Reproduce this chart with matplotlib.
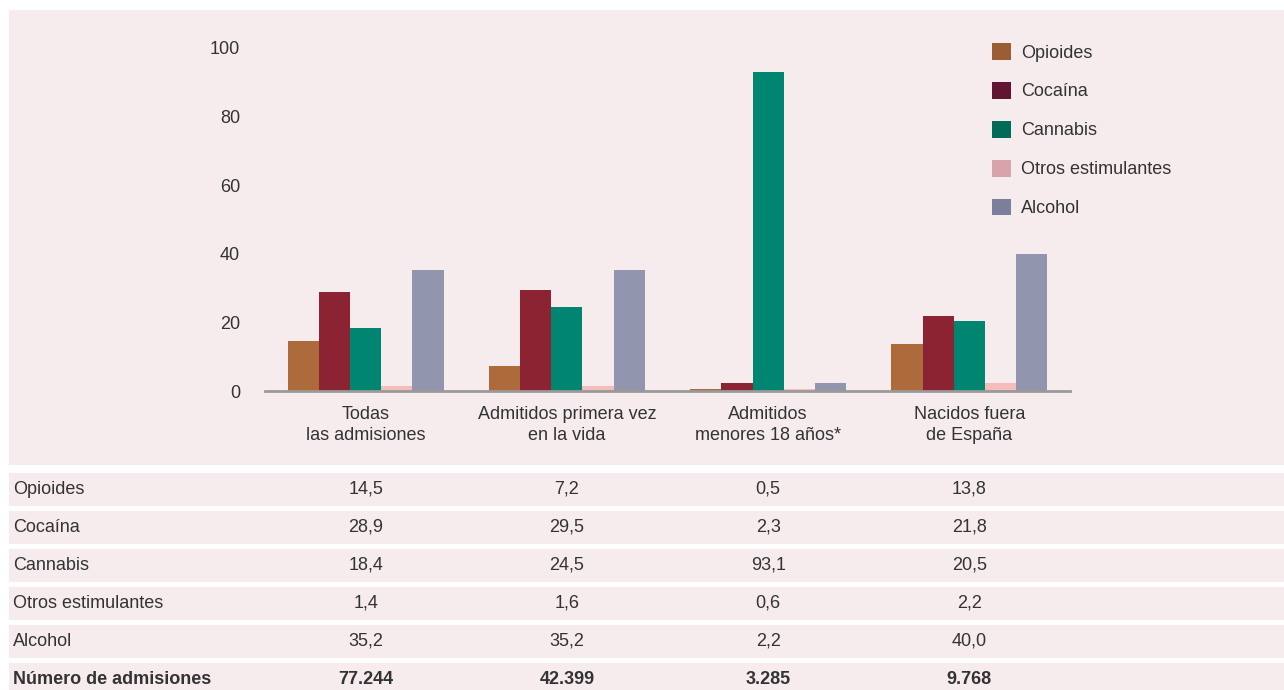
import matplotlib.pyplot as plt
import matplotlib.transforms as mtransforms
from matplotlib.patches import Rectangle, Patch
import numpy as np

plt.rcParams['font.family'] = ['Liberation Sans', 'DejaVu Sans']

# data
grupos = ['Todas\nlas admisiones', 'Admitidos primera vez\nen la vida',
          'Admitidos\nmenores 18 años*', 'Nacidos fuera\nde España']
sustancias = ['Opioides', 'Cocaína', 'Cannabis', 'Otros estimulantes', 'Alcohol']
opioides = [14.5, 7.2, 0.5, 13.8]
cocaina = [28.9, 29.5, 2.3, 21.8]
cannabis = [18.4, 24.5, 93.1, 20.5]
otros = [1.4, 1.6, 0.6, 2.2]
alcohol = [35.2, 35.2, 2.2, 40.0]
n_admisiones = ['77.244', '42.399', '3.285', '9.768']

valores = [opioides, cocaina, cannabis, otros, alcohol]
bar_colors = ['#ad6b3b', '#8b2332', '#008571', '#f5bcbc', '#9195ae']
leg_colors = ['#9a5e34', '#621530', '#036a58', '#d8a4ab', '#7b7f9b']

W, H = 1284, 690
bg = '#f6ecee'
txt = '#333333'
fs = 13

fig = plt.figure(figsize=(W / 100, H / 100), dpi=100)
fig.patch.set_facecolor('white')

def px(x0, y0, w, h):
    # pixel box (top-left origin) to figure coords
    return (x0 / W, 1 - (y0 + h) / H, w / W, h / H)

# chart panel background
x, y, w, h = px(9, 10, W - 9, 455)
fig.add_artist(Rectangle((x, y), w, h, transform=fig.transFigure,
                         facecolor=bg, edgecolor='none', zorder=0))

ax = fig.add_axes([265 / W, 1 - 391 / H, 805 / W, 343 / H])
ax.set_facecolor('none')

xpos = np.arange(len(grupos))
bw = 0.155
for i, (vals, c) in enumerate(zip(valores, bar_colors)):
    ax.bar(xpos + (i - 2) * bw, vals, width=bw, color=c, zorder=2)

ax.set_xlim(-0.5, 3.5)
ax.set_ylim(0, 100)
ax.set_yticks([0, 20, 40, 60, 80, 100])
ax.set_xticks(xpos)
ax.set_xticklabels(grupos, linespacing=1.25)
ax.tick_params(axis='both', length=0, labelsize=fs, labelcolor=txt)
ax.tick_params(axis='x', pad=11)
ax.tick_params(axis='y', pad=18)
for s in ['top', 'right', 'left']:
    ax.spines[s].set_visible(False)
ax.spines['bottom'].set_color('#9a9a9a')
ax.spines['bottom'].set_linewidth(2)
ax.spines['bottom'].set_zorder(3)

handles = [Patch(facecolor=c, edgecolor='none', label=l)
           for c, l in zip(leg_colors, sustancias)]
ax.legend(handles=handles, loc='upper left', frameon=False,
          bbox_to_anchor=(992 / W, 1 - 43 / H), bbox_transform=fig.transFigure,
          fontsize=fs, handlelength=1.05, handleheight=1.05,
          handletextpad=0.55, labelspacing=1.13, borderpad=0, borderaxespad=0,
          labelcolor=txt)

# table below the chart
filas = sustancias + ['Número de admisiones']
celdas = [[f'{v:.1f}'.replace('.', ',') for v in vals] for vals in valores]
celdas.append(n_admisiones)
tr = mtransforms.blended_transform_factory(ax.transData, fig.transFigure)
for r, (lab, row) in enumerate(zip(filas, celdas)):
    top = 473 + 38 * r
    x, y, w, h = px(9, top, W - 9, 33)
    fig.add_artist(Rectangle((x, y), w, h, transform=fig.transFigure,
                             facecolor=bg, edgecolor='none', zorder=0))
    yc = 1 - (top + 16.5) / H
    weight = 'bold' if r == len(filas) - 1 else 'normal'
    fig.text(13 / W, yc, lab, ha='left', va='center', fontsize=fs,
             color=txt, fontweight=weight)
    for j, val in enumerate(row):
        fig.text(xpos[j], yc, val, transform=tr, ha='center', va='center',
                 fontsize=fs, color=txt, fontweight=weight)

fig.savefig('out.png', dpi=100, facecolor='white')
